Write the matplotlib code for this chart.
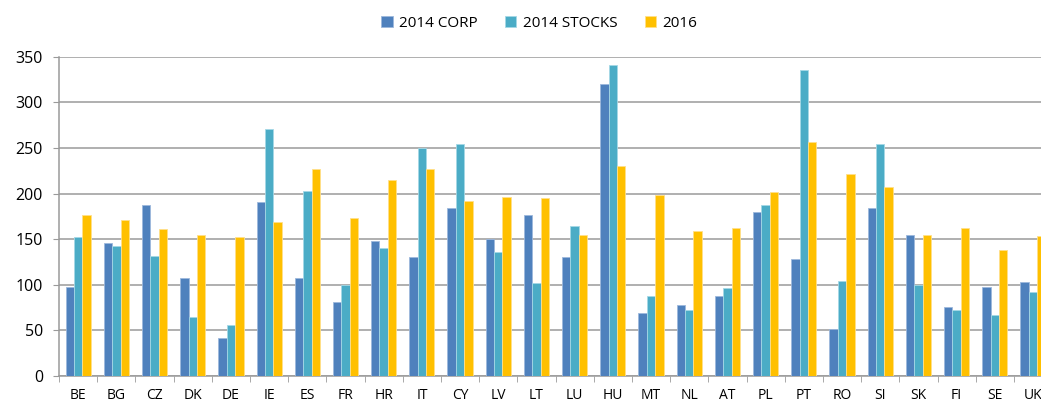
import numpy as np
import matplotlib.pyplot as plt

countries = ['BE', 'BG', 'CZ', 'DK', 'DE', 'IE', 'ES', 'FR', 'HR', 'IT', 'CY', 'LV', 'LT',
             'LU', 'HU', 'MT', 'NL', 'AT', 'PL', 'PT', 'RO', 'SI', 'SK', 'FI', 'SE', 'UK']
corp_2014 = [98, 146, 188, 108, 42, 191, 107, 81, 148, 131, 184, 150, 177,
             131, 320, 69, 78, 88, 180, 128, 52, 184, 155, 76, 98, 103]
stocks_2014 = [152, 143, 132, 65, 56, 271, 203, 100, 140, 250, 254, 136, 102,
               164, 341, 88, 72, 96, 187, 336, 104, 254, 100, 72, 67, 92]
y2016 = [177, 171, 161, 155, 152, 169, 227, 173, 215, 227, 192, 196, 195,
         155, 230, 199, 159, 162, 202, 257, 222, 207, 155, 162, 138, 154]

plt.rcParams['font.family'] = ['Open Sans', 'DejaVu Sans']

fig = plt.figure(figsize=(10.41, 4.03), dpi=100)
# axes deliberately runs past the right edge (UK group is cut off in the original)
ax = fig.add_axes([0.0567, 0.067, 0.954, 0.792])

x = np.arange(len(countries))
w = 0.22
series = [('2014 CORP', corp_2014, '#4F81BD', '#9DB8DC'),
          ('2014 STOCKS', stocks_2014, '#4BACC6', '#A5D8E6'),
          ('2016', y2016, '#FFC000', '#FFE08A')]
for i, (name, vals, col, edge) in enumerate(series):
    ax.bar(x + (i - 1) * w, vals, w, color=col, edgecolor=edge, linewidth=0.6,
           label=name, zorder=3)

ax.set_xlim(-0.5, len(countries) - 0.5)
ax.set_ylim(0, 350)
ax.set_yticks(range(0, 351, 50))
ax.yaxis.grid(True, color='#9A9A9A', linewidth=1.1, zorder=0)
ax.set_xticks(x)
ax.set_xticklabels(countries, fontsize=10)
ax.set_xticks(np.arange(-0.5, len(countries), 1), minor=True)
ax.tick_params(axis='x', which='major', length=0, pad=9)
ax.tick_params(axis='x', which='minor', length=4.5, color='#9A9A9A')
ax.tick_params(axis='y', length=4.5, color='#9A9A9A', labelsize=11.5, pad=7)
for s in ['top', 'right']:
    ax.spines[s].set_visible(False)
ax.spines['left'].set_color('#9A9A9A')
ax.spines['bottom'].set_color('#9A9A9A')
ax.spines['left'].set_linewidth(1.1)
ax.spines['bottom'].set_linewidth(1.1)

fig.legend(loc='center', bbox_to_anchor=(0.518, 0.942), ncol=3, frameon=False,
           fontsize=11, handlelength=0.75, handleheight=0.75, columnspacing=1.8,
           handletextpad=0.4)

fig.savefig('out.png', dpi=100)
